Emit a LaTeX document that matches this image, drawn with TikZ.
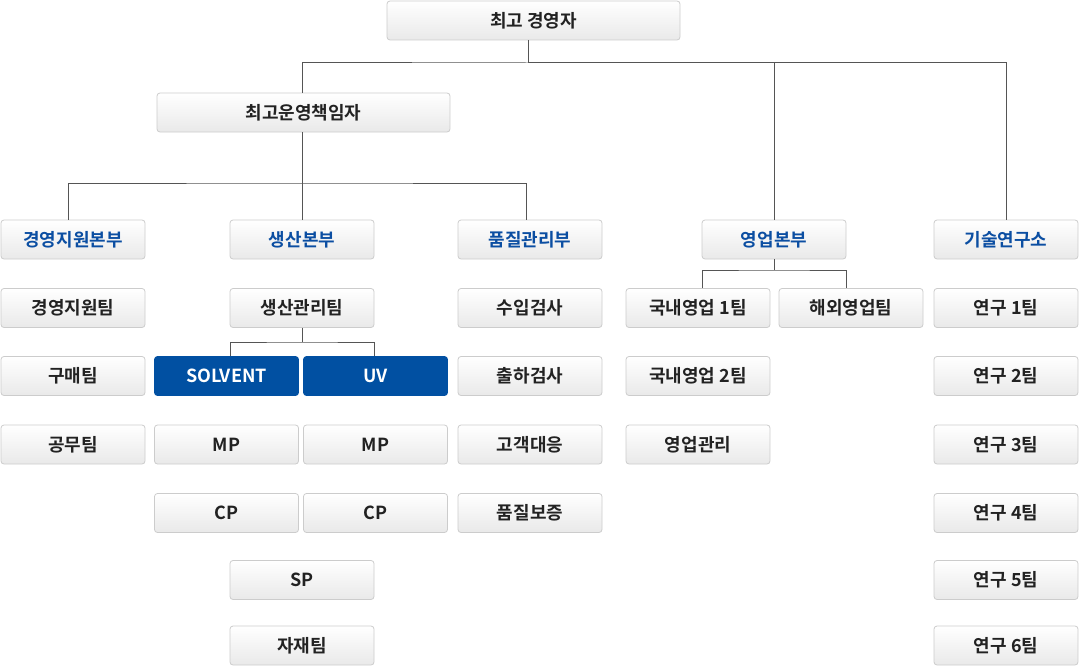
\documentclass[tikz,border=0pt]{standalone}
\usepackage{fontspec}
\setmainfont{Noto Sans CJK KR}[BoldFont={Noto Sans CJK KR Bold}]
\usetikzlibrary{calc}
\definecolor{bordergray}{HTML}{CCCCCC}
\definecolor{boxbottom}{HTML}{E9E9E9}
\definecolor{txtdark}{HTML}{222222}
\definecolor{hqblue}{HTML}{0B4EA2}
\definecolor{fillblue}{HTML}{0150A2}
\definecolor{linegray}{HTML}{555555}
\tikzset{
  box/.style={draw=bordergray, rounded corners=3pt, top color=white, bottom color=boxbottom,
    minimum width=144pt, minimum height=39pt, inner sep=0pt, line width=0.8pt,
    font=\fontsize{18}{20}\selectfont\bfseries, text=txtdark},
  hqbox/.style={box, text=hqblue},
  bluebox/.style={box, draw=fillblue, top color=fillblue, bottom color=fillblue, text=white},
  conn/.style={draw=linegray, line width=1pt},
}
\begin{document}
\begin{tikzpicture}[x=1pt,y=-1pt]
\useasboundingbox (0,0) rectangle (1079,669);
% level 0
\node[box, minimum width=293pt] (ceo) at (533.5,20.5) {최고 경영자};
\node[box, minimum width=293pt] (coo) at (303.5,112.5) {최고운영책임자};
% headquarters
\node[hqbox] (hq1) at (73,239.5) {경영지원본부};
\node[hqbox] (hq2) at (302,239.5) {생산본부};
\node[hqbox] (hq3) at (530,239.5) {품질관리부};
\node[hqbox] (hq4) at (774,239.5) {영업본부};
\node[hqbox] (hq5) at (1006,239.5) {기술연구소};
% column 1
\node[box] (a1) at (73,308) {경영지원팀};
\node[box] (a2) at (73,376) {구매팀};
\node[box] (a3) at (73,444.5) {공무팀};
% column 2
\node[box] (b1) at (302,308) {생산관리팀};
\node[bluebox] (solvent) at (226.5,376) {SOLVENT};
\node[bluebox] (uv) at (375.5,376) {UV};
\node[box] (mp1) at (226.5,444.5) {MP};
\node[box] (mp2) at (375.5,444.5) {MP};
\node[box] (cp1) at (226.5,513) {CP};
\node[box] (cp2) at (375.5,513) {CP};
\node[box] (sp) at (302,580) {SP};
\node[box] (mat) at (302,645.5) {자재팀};
% column 3
\node[box] (c1) at (530,308) {수입검사};
\node[box] (c2) at (530,376) {출하검사};
\node[box] (c3) at (530,444.5) {고객대응};
\node[box] (c4) at (530,513) {품질보증};
% column 4
\node[box] (d1) at (698,308) {국내영업 1팀};
\node[box] (d2) at (851,308) {해외영업팀};
\node[box] (d3) at (698,376) {국내영업 2팀};
\node[box] (d4) at (698,444.5) {영업관리};
% column 5
\node[box] (e1) at (1006,308) {연구 1팀};
\node[box] (e2) at (1006,376) {연구 2팀};
\node[box] (e3) at (1006,444.5) {연구 3팀};
\node[box] (e4) at (1006,513) {연구 4팀};
\node[box] (e5) at (1006,580) {연구 5팀};
\node[box] (e6) at (1006,645.5) {연구 6팀};
% junctions
\coordinate (j0) at (528,63);
\coordinate (j1) at (302,183);
\coordinate (j2) at (302,342);
\coordinate (j3) at (774,270);
% connectors
\draw[conn] (ceo.south -| j0) -- (j0);
\draw[conn] (coo.north -| hq2.north) |- (j0) -| (hq5.north);
\draw[conn] (j0) -| (hq4.north);
\draw[conn] (coo.south -| j1) -- (j1);
\draw[conn] ($(hq1.north)+(-5,0)$) |- (j1) -| ($(hq3.north)+(-4,0)$);
\draw[conn] (j1) -- (hq2.north);
\draw[conn] (b1.south) -- (j2);
\draw[conn] ($(solvent.north)+(3.5,0)$) |- (j2) -| ($(uv.north)+(-1.5,0)$);
\draw[conn] (hq4.south) -- (j3);
\draw[conn] ($(d1.north)+(4,0)$) |- (j3) -| ($(d2.north)+(-5,0)$);
\end{tikzpicture}
\end{document}
